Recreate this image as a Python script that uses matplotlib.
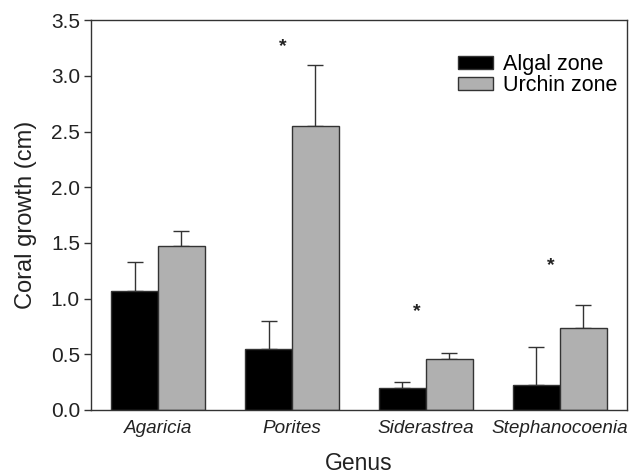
import matplotlib
matplotlib.use('Agg')
import matplotlib.pyplot as plt
import numpy as np

plt.rcParams['font.family'] = ['Liberation Sans', 'DejaVu Sans']

genera = ["Agaricia", "Porites", "Siderastrea", "Stephanocoenia"]
algal = [1.07, 0.55, 0.195, 0.225]
algal_err = [0.26, 0.25, 0.06, 0.34]
urchin = [1.47, 2.55, 0.455, 0.74]
urchin_err = [0.14, 0.55, 0.06, 0.205]
star_y = [None, 3.26, 0.88, 1.30]

fig = plt.figure(figsize=(6.41, 4.76), dpi=100)
ax = fig.add_axes([0.142, 0.1387, 0.836, 0.819])

x = np.arange(len(genera))
w = 0.35
edge = '#333333'
ax.bar(x - w/2, algal, w, color='black', edgecolor=edge, linewidth=1, label='Algal zone', zorder=2)
ax.bar(x + w/2, urchin, w, color='#b0b0b0', edgecolor=edge, linewidth=1, label='Urchin zone', zorder=2)
ax.errorbar(x - w/2, algal, yerr=[np.zeros(4), algal_err], fmt='none', ecolor=edge,
            elinewidth=1, capsize=6, capthick=1, zorder=1)
ax.errorbar(x + w/2, urchin, yerr=[np.zeros(4), urchin_err], fmt='none', ecolor=edge,
            elinewidth=1, capsize=6, capthick=1, zorder=1)

for xi, sy in zip(x, star_y):
    if sy is not None:
        ax.text(xi - 0.07, sy, '*', ha='center', va='center', fontsize=14,
                fontweight='bold', color='#222222')

ax.set_xlim(-0.5, 3.5)
ax.set_ylim(0, 3.5)
ax.set_yticks(np.arange(0, 3.51, 0.5))
ax.set_yticklabels([f'{v:.1f}' for v in np.arange(0, 3.51, 0.5)], fontsize=15, color='#222222')
ax.set_xticks(x)
ax.set_xticklabels(genera, fontsize=13.6, style='italic', color='#222222')
ax.tick_params(axis='x', length=0, pad=7)
ax.tick_params(axis='y', length=5, width=1, color=edge, pad=3)
for s in ax.spines.values():
    s.set_color(edge)
    s.set_linewidth(1)

ax.set_ylabel('Coral growth (cm)', fontsize=17, color='#222222', labelpad=10)
ax.set_xlabel('Genus', fontsize=16.5, color='#222222', labelpad=11)

ax.legend(loc='upper right', bbox_to_anchor=(1.019, 0.962), frameon=False, fontsize=15.5,
          handlelength=1.6, handleheight=0.55, handletextpad=0.5, labelspacing=0.0)

fig.savefig('out.png', dpi=100)
